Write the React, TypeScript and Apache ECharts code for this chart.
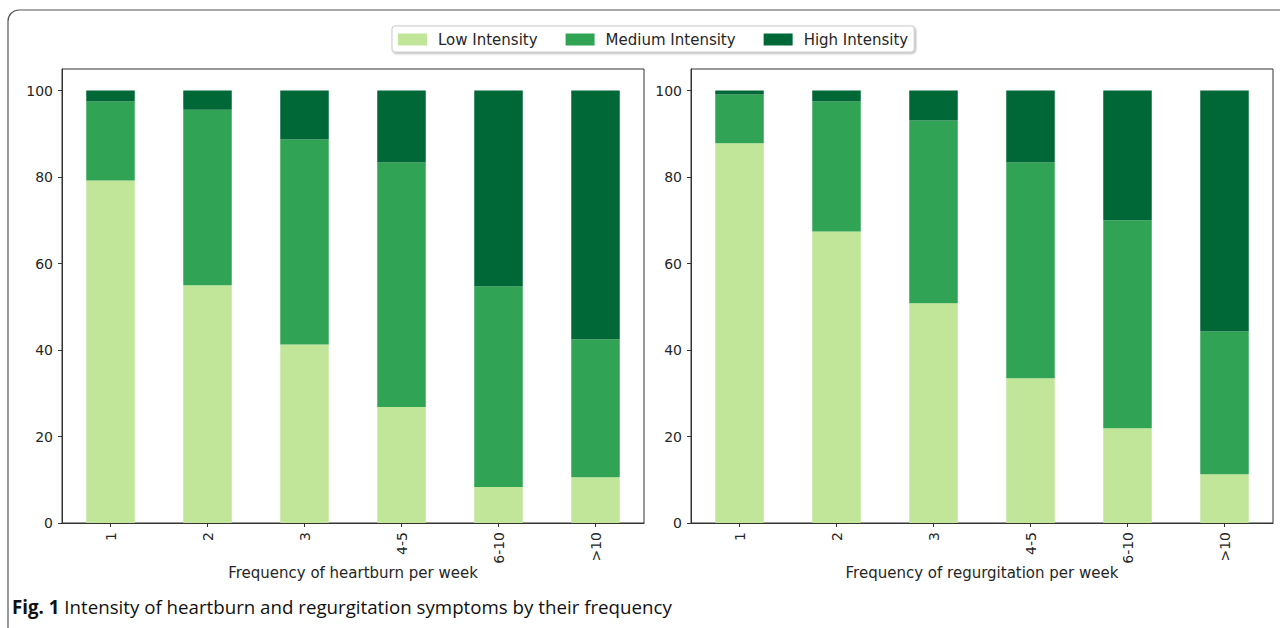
import React, { useEffect, useRef } from "react";
import * as echarts from "echarts";

const categories = ["1", "2", "3", "4-5", "6-10", ">10"];
const seriesNames = ["Low Intensity", "Medium Intensity", "High Intensity"];
const colors = ["#c2e699", "#31a354", "#006837"];

const heartburnLow = [79.2, 55.0, 41.3, 26.8, 8.3, 10.6];
const heartburnMedium = [18.3, 40.6, 47.4, 56.6, 46.4, 31.9];
const heartburnHigh = [2.5, 4.4, 11.3, 16.6, 45.3, 57.5];

const regurgLow = [87.8, 67.4, 50.8, 33.5, 21.9, 11.3];
const regurgMedium = [11.3, 30.1, 42.3, 49.9, 48.1, 33.0];
const regurgHigh = [0.9, 2.5, 6.9, 16.6, 30.0, 55.7];

const yTicks = [0, 20, 40, 60, 80, 100];
const xTitles = ["Frequency of heartburn per week", "Frequency of regurgitation per week"];
const captionBold = "Fig. 1";
const captionText = " Intensity of heartburn and regurgitation symptoms by their frequency";

const axisColor = "#333333";
const textColor = "#262626";
const font = "DejaVu Sans";

export default function App() {
  const ref = useRef<HTMLDivElement>(null);
  useEffect(() => {
    if (!ref.current) return;
    const chart = echarts.init(ref.current, undefined, { renderer: "svg" });
    const grids = [
      { left: 62, top: 69, width: 582, height: 454 },
      { left: 691, top: 69, width: 582, height: 454 },
    ];
    const data = [
      [heartburnLow, heartburnMedium, heartburnHigh],
      [regurgLow, regurgMedium, regurgHigh],
    ];
    const xAxis = grids.map((_, i) => ({
      type: "category",
      gridIndex: i,
      data: categories,
      boundaryGap: true,
      name: xTitles[i],
      nameLocation: "middle",
      nameGap: 42,
      nameMoveOverlap: false,
      nameTextStyle: { fontFamily: font, fontSize: 15, color: textColor },
      axisLine: { show: true, lineStyle: { color: axisColor, width: 1 } },
      axisTick: { show: true, alignWithLabel: true, length: 4, lineStyle: { color: axisColor } },
      axisLabel: { rotate: 90, margin: 9, fontFamily: font, fontSize: 14, color: textColor },
      splitLine: { show: false },
    }));
    const yAxis = grids.map((_, i) => ({
      type: "value",
      gridIndex: i,
      min: 0,
      max: 105,
      axisLine: { show: true, lineStyle: { color: axisColor, width: 1 } },
      axisTick: { show: true, length: 4, customValues: yTicks, lineStyle: { color: axisColor } },
      axisLabel: { margin: 9, customValues: yTicks, fontFamily: font, fontSize: 14, color: textColor },
      splitLine: { show: false },
    }));
    const series: any[] = [];
    data.forEach((set, gi) => {
      set.forEach((vals, si) => {
        series.push({
          type: "bar",
          name: seriesNames[si],
          xAxisIndex: gi,
          yAxisIndex: gi,
          stack: "s" + gi,
          barWidth: "50%",
          data: vals,
          itemStyle: { color: colors[si] },
        });
      });
    });
    chart.setOption({
      animation: false,
      backgroundColor: "#ffffff",
      grid: grids.map((g) => ({ ...g, show: true, borderColor: axisColor, borderWidth: 1, backgroundColor: "transparent" })),
      legend: {
        data: seriesNames,
        left: 392,
        top: 26,
        orient: "horizontal",
        itemWidth: 29,
        itemHeight: 12,
        itemGap: 28,
        padding: [6, 6, 5, 6],
        borderColor: "#cccccc",
        borderWidth: 1,
        borderRadius: 3,
        backgroundColor: "#ffffff",
        shadowColor: "rgba(0,0,0,0.35)",
        shadowBlur: 2,
        shadowOffsetX: 1,
        shadowOffsetY: 1,
        selectedMode: false,
        icon: "rect",
        textStyle: { fontFamily: font, fontSize: 15, color: textColor, padding: [0, 0, 0, 6] },
      },
      xAxis,
      yAxis,
      series,
      graphic: [
        {
          type: "rect",
          shape: { x: 8, y: 10, width: 1400, height: 800, r: [11, 0, 0, 0] },
          style: { fill: "none", stroke: "#555555", lineWidth: 1.2 },
          silent: true,
        },
        {
          type: "text",
          x: 12,
          y: 597,
          scaleX: 0.985,
          style: {
            text: "{b|" + captionBold + "}{n|" + captionText + "}",
            rich: {
              b: { fontFamily: "Open Sans", fontWeight: "bold", fontSize: 19, fill: "#111111" },
              n: { fontFamily: "Open Sans", fontSize: 19, fill: "#111111" },
            },
          },
        },
      ],
    });
    return () => chart.dispose();
  }, []);
  return <div ref={ref} style={{ position: "fixed", left: 0, top: 0, width: 1280, height: 628 }} />;
}
